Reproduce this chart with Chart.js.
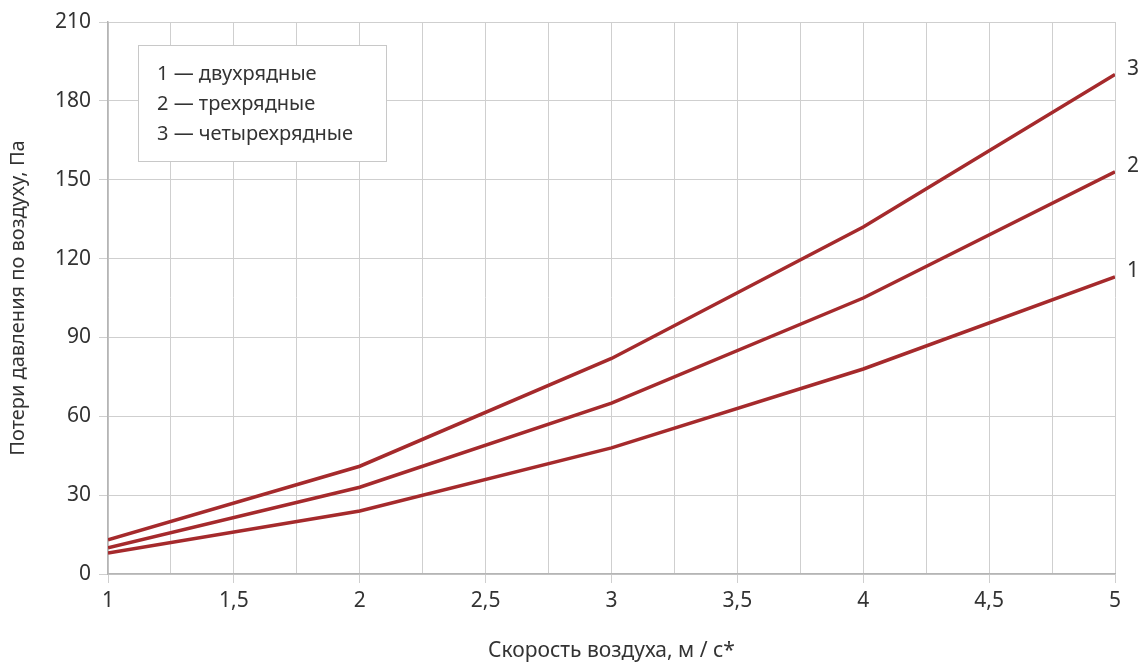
<!DOCTYPE html>
<html>
<head>
<meta charset="utf-8">
<script src="https://cdn.jsdelivr.net/npm/chart.js@4"></script>
<style>
  html, body { margin: 0; padding: 0; background: #fff; }
  #wrap { width: 1144px; height: 665px; position: relative; }
</style>
</head>
<body>
<div id="wrap"><canvas id="chart"></canvas></div>
<script>
// данные графика
const speeds = [1, 2, 3, 4, 5];
const rows2 = [8, 24, 48, 78, 113];     // 1 — двухрядные
const rows3 = [10, 33, 65, 105, 153];   // 2 — трехрядные
const rows4 = [13, 41, 82, 132, 190];   // 3 — четырехрядные
const seriesNums = ['1', '2', '3'];
const legendLines = ['1 — двухрядные', '2 — трехрядные', '3 — четырехрядные'];
const xTitle = 'Скорость воздуха, м / с*';
const yTitle = 'Потери давления по воздуху, Па';

const FONT = "'Noto Sans', sans-serif";
const TEXT = '#333';
const LINE = '#a52a2c';
const GRID = '#cfcfcf';

function toPoints(vals) {
  return speeds.map((x, i) => ({ x: x, y: vals[i] }));
}

// рамка с подписями серий
const legendBox = {
  id: 'legendBox',
  afterDraw(chart) {
    const ctx = chart.ctx;
    ctx.save();
    ctx.fillStyle = '#fff';
    ctx.fillRect(138.5, 45.5, 248, 116);
    ctx.strokeStyle = '#c8c8c8';
    ctx.lineWidth = 1;
    ctx.strokeRect(138.5, 45.5, 248, 116);
    ctx.fillStyle = TEXT;
    ctx.font = '20px ' + FONT;
    ctx.textBaseline = 'middle';
    legendLines.forEach((t, i) => ctx.fillText(t, 157, 74 + i * 30));
    ctx.restore();
  }
};

// номера серий у правого края
const endLabels = {
  id: 'endLabels',
  afterDatasetsDraw(chart) {
    const ctx = chart.ctx;
    const xs = chart.scales.x, ys = chart.scales.y;
    ctx.save();
    ctx.fillStyle = TEXT;
    ctx.font = '21px ' + FONT;
    ctx.textBaseline = 'middle';
    chart.data.datasets.forEach((ds, i) => {
      const last = ds.data[ds.data.length - 1];
      ctx.fillText(seriesNums[i], xs.getPixelForValue(last.x) + 12, ys.getPixelForValue(last.y) - 6);
    });
    ctx.restore();
  }
};

const ds = (vals) => ({
  data: toPoints(vals),
  borderColor: LINE,
  borderWidth: 3.5,
  pointRadius: 0,
  tension: 0,
  fill: false
});

new Chart(document.getElementById('chart'), {
  type: 'line',
  data: { datasets: [ds(rows2), ds(rows3), ds(rows4)] },
  options: {
    responsive: true,
    maintainAspectRatio: false,
    animation: false,
    layout: { padding: { top: 22, right: 29, left: 0, bottom: 0 } },
    plugins: { legend: { display: false }, tooltip: { enabled: false } },
    scales: {
      x: {
        type: 'linear',
        min: 1, max: 5,
        afterBuildTicks(scale) {
          const t = [];
          for (let v = 1; v <= 5.001; v += 0.25) t.push({ value: Math.round(v * 100) / 100 });
          scale.ticks = t;
        },
        afterFit(scale) { scale.height = 91; },
        grid: {
          color: GRID,
          lineWidth: 1,
          tickLength: 9,
          tickColor: (c) => (c.tick && Math.abs(c.tick.value * 2 - Math.round(c.tick.value * 2)) < 1e-6) ? GRID : 'rgba(0,0,0,0)'
        },
        border: { color: '#b5b5b5', width: 1.5 },
        ticks: {
          autoSkip: false,
          maxRotation: 0,
          padding: 5,
          color: TEXT,
          font: { family: FONT, size: 21 },
          callback: (v) => (Math.abs(v * 2 - Math.round(v * 2)) < 1e-6) ? String(v).replace('.', ',') : ''
        },
        title: {
          display: true,
          text: xTitle,
          color: TEXT,
          font: { family: FONT, size: 21 },
          padding: { top: 0, bottom: 1 }
        }
      },
      y: {
        min: 0, max: 210,
        afterFit(scale) { scale.width = 108; },
        grid: { color: GRID, lineWidth: 1, tickLength: 9, tickColor: GRID },
        border: { color: '#b5b5b5', width: 1.5 },
        ticks: {
          stepSize: 30,
          padding: 8,
          color: TEXT,
          font: { family: FONT, size: 21 }
        },
        title: {
          display: true,
          text: yTitle,
          color: TEXT,
          font: { family: FONT, size: 20 },
          padding: { top: 6, bottom: 0 }
        }
      }
    }
  },
  plugins: [legendBox, endLabels]
});
</script>
</body>
</html>
